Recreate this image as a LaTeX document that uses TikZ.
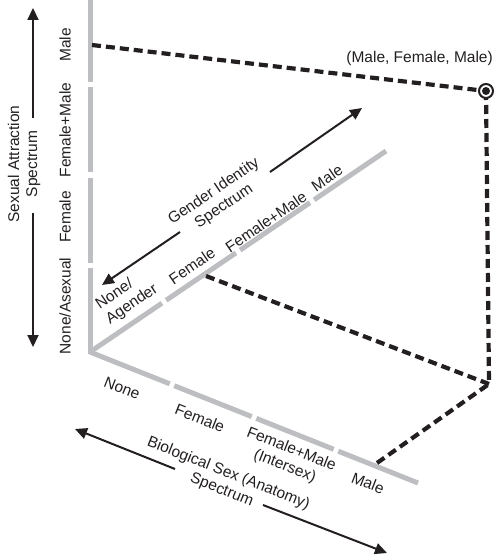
\documentclass[tikz,border=0pt]{standalone}
\usepackage{fontspec}
\setmainfont{Liberation Sans}
\usetikzlibrary{arrows.meta}
\definecolor{axisgray}{RGB}{189,190,193}
\definecolor{ink}{RGB}{35,31,32}
\newcommand{\spec}{-{Triangle[length=12pt,width=11pt]}}

\begin{document}
\begin{tikzpicture}[x=1pt,y=-1pt,color=ink,font=\fontsize{15.5}{18}\selectfont,
  axis/.style={axisgray,line width=5pt},
  link/.style={line width=4.2pt,dash pattern=on 9pt off 5pt},
  title/.style={align=center}]
\useasboundingbox (0,0) rectangle (493,556);
%sexual attraction axis
\draw[axis] (90,0) -- (90,82);
\draw[axis] (90,87) -- (90,172);
\draw[axis] (90,178) -- (90,263);
\draw[axis] (90,268) -- (90,354);
\node[rotate=90] (attrM) at (65,45) {Male};
\node[rotate=90] (attrFM) at (65,130) {Female+Male};
\node[rotate=90] (attrF) at (65,217) {Female};
\node[rotate=90] (attrN) at (65,306) {None/Asexual};
\node[rotate=90,title] (attrT) at (24,164) {Sexual Attraction\\Spectrum};
\coordinate (attrUp0) at (33,118);
\coordinate (attrUp1) at (33,8);
\coordinate (attrDn0) at (33,213);
\coordinate (attrDn1) at (33,347);
\draw[line width=2pt,\spec] (attrUp0) -- (attrUp1);
\draw[line width=2pt,\spec] (attrDn0) -- (attrDn1);
%gender identity axis
\draw[axis] (90,352) -- (161.9,303.2);
\draw[axis] (166.1,300.3) -- (235.9,252.9);
\draw[axis] (240.1,250.1) -- (309.9,202.7);
\draw[axis] (314.1,199.8) -- (386,151);
\node[rotate=34.2,align=left] (genN) at (127,297) {None/\\Agender};
\node[rotate=34.2] (genF) at (192,266) {Female};
\node[rotate=34.2] (genFM) at (266,222) {Female+Male};
\node[rotate=34.2] (genM) at (327,178) {Male};
\node[rotate=34.2,title] (genT) at (219,199) {Gender Identity\\Spectrum};
\coordinate (genDn0) at (180,232);
\coordinate (genDn1) at (102,285);
\coordinate (genUp0) at (270,172);
\coordinate (genUp1) at (362,108);
\draw[line width=2pt,\spec] (genDn0) -- (genDn1);
\draw[line width=2pt,\spec] (genUp0) -- (genUp1);
%biological sex axis
\draw[axis] (90,352) -- (169.7,383.8);
\draw[axis] (174.3,385.7) -- (251.7,416.6);
\draw[axis] (256.3,418.4) -- (333.7,449.3);
\draw[axis] (338.3,451.2) -- (418,483);
\node[rotate=-21.5] (bioN) at (122,388) {None};
\node[rotate=-21.5] (bioF) at (200,418) {Female};
\node[rotate=-21.5,title] (bioFM) at (288,458) {Female+Male\\(Intersex)};
\node[rotate=-21.5] (bioM) at (368,483) {Male};
\node[rotate=-21.5,title] (bioT) at (225,482) {Biological Sex (Anatomy)\\Spectrum};
\coordinate (bioUp0) at (175,469);
\coordinate (bioUp1) at (75,429);
\coordinate (bioDn0) at (263,505);
\coordinate (bioDn1) at (387,553);
\draw[line width=2pt,\spec] (bioUp0) -- (bioUp1);
\draw[line width=2pt,\spec] (bioDn0) -- (bioDn1);
%the plotted point
\coordinate (onAttr) at (92,45);
\coordinate (onGen) at (206,276);
\coordinate (onBio) at (377,463);
\coordinate (pt) at (486,91);
\coordinate (base) at (489,384);
\draw[link] (onAttr) -- (pt);
\draw[link] (pt) -- (base);
\draw[link] (onGen) -- (base);
\draw[link] (onBio) -- (base);
\draw[line width=2pt,fill=white] (pt) circle (7pt);
\fill (pt) circle (4pt);
\node[anchor=south east,inner sep=0pt] (ptLabel) at (493,66) {(Male, Female, Male)};
\end{tikzpicture}
\end{document}
